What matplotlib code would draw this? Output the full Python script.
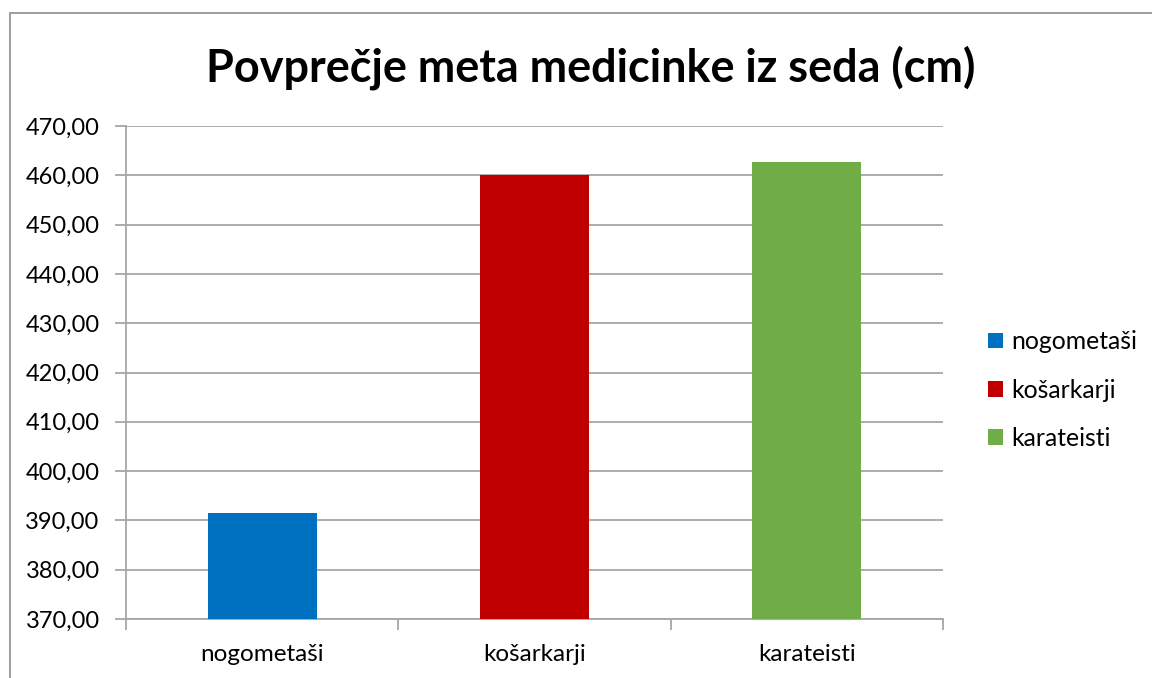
import matplotlib
matplotlib.use("Agg")
import matplotlib.pyplot as plt
from matplotlib.patches import Rectangle

categories = ["nogometaši", "košarkarji", "karateisti"]
values = [391.5, 460.0, 462.7]
colors = ["#0070C0", "#C00000", "#70AD47"]
y_ticks = [370, 380, 390, 400, 410, 420, 430, 440, 450, 460, 470]
title = "Povprečje meta medicinke iz seda (cm)"

plt.rcParams['font.family'] = ['Lato', 'DejaVu Sans']

W, H = 1152, 678
fig = plt.figure(figsize=(W / 100, H / 100), dpi=100)

# chart area border (top and left visible, rest cut off)
fig.patches.append(Rectangle((10 / W, -0.1), 1.2, 1.1 - 13 / H,
                             transform=fig.transFigure, fill=False,
                             edgecolor="#8c8c8c", linewidth=1.2))

ax = fig.add_axes([126 / W, 1 - 619 / H, (943 - 126) / W, (619 - 126) / H])

x = range(len(categories))
bars = ax.bar(x, [v - 370 for v in values], bottom=370, width=0.4,
              color=colors, zorder=3)

ax.set_xlim(-0.5, len(categories) - 0.5)
ax.set_ylim(370, 470)
ax.set_yticks(y_ticks)
ax.set_yticklabels([f"{t:.2f}".replace(".", ",") for t in y_ticks])
ax.yaxis.grid(True, color="#a6a6a6", linewidth=1.3, zorder=0)

ax.set_xticks(x)
ax.set_xticklabels(categories)
ax.set_xticks([i - 0.5 for i in range(len(categories) + 1)], minor=True)
ax.tick_params(axis='x', which='major', length=0, pad=18, labelsize=17.5)
ax.tick_params(axis='x', which='minor', length=8, color="#a6a6a6", width=1.3)
ax.tick_params(axis='y', length=8, color="#a6a6a6", width=1.3, labelsize=17, pad=11)

for side in ["top", "right"]:
    ax.spines[side].set_visible(False)
for side in ["left", "bottom"]:
    ax.spines[side].set_color("#a6a6a6")
    ax.spines[side].set_linewidth(1.3)

fig.text(591 / W, 1 - 68 / H, title, ha="center", va="center",
         fontsize=32.4, fontweight="bold")

leg = fig.legend(bars, categories, loc="center left",
                 bbox_to_anchor=(966 / W, 1 - 390 / H),
                 frameon=False, fontsize=17.8, handlelength=0.6,
                 handleheight=0.6, handletextpad=0.35, labelspacing=1.02)

fig.savefig("out.png", dpi=100, facecolor="white")
